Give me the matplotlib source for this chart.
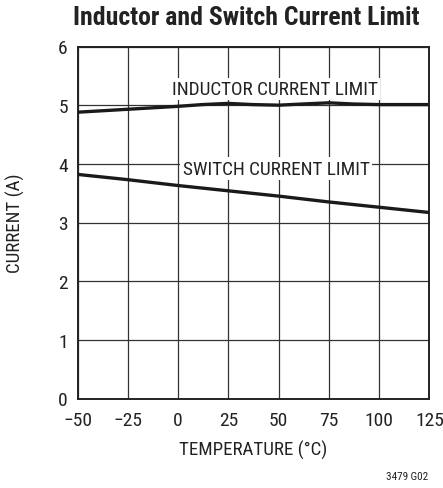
import matplotlib
matplotlib.use("Agg")
import matplotlib.pyplot as plt

plt.rcParams['font.family'] = ['Roboto Condensed', 'DejaVu Sans']

# Data
temp_ind = [-50, -25, 0, 12, 25, 37, 50, 62, 75, 87, 100, 125]
ind_limit = [4.88, 4.93, 4.98, 5.01, 5.03, 5.01, 5.00, 5.02, 5.04, 5.02, 5.01, 5.01]
temp_sw = [-50, -25, 0, 25, 50, 75, 100, 125]
sw_limit = [3.82, 3.73, 3.63, 3.54, 3.45, 3.35, 3.26, 3.17]
x_ticks = [-50, -25, 0, 25, 50, 75, 100, 125]
x_labels = ["\u221250", "\u221225", "0", "25", "50", "75", "100", "125"]
y_ticks = [0, 1, 2, 3, 4, 5, 6]

fig = plt.figure(figsize=(4.43, 4.89), dpi=100)
ax = fig.add_axes([77.5 / 443, 1 - 399.5 / 489, 352 / 443, 352 / 489])

ax.plot(temp_ind, ind_limit, color="#1a1a1a", lw=2.4, zorder=3)
ax.plot(temp_sw, sw_limit, color="#1a1a1a", lw=2.4, zorder=3)

ax.set_xlim(-50, 125)
ax.set_ylim(0, 6)
ax.set_xticks(x_ticks)
ax.set_xticklabels(x_labels)
ax.set_yticks(y_ticks)
ax.tick_params(length=0, labelsize=14, colors="#222222")
ax.tick_params(axis="x", pad=9)
ax.tick_params(axis="y", pad=7)
ax.grid(True, color="#333333", lw=0.9)
for s in ax.spines.values():
    s.set_linewidth(1.4)
    s.set_color("#222222")

box = dict(facecolor="white", edgecolor="none", pad=1.5)
ax.text(48, 5.28, "INDUCTOR CURRENT LIMIT", ha="center", va="center",
        fontsize=13.9, color="#222222", bbox=box, zorder=4)
ax.text(48.7, 3.92, "SWITCH CURRENT LIMIT", ha="center", va="center",
        fontsize=13.9, color="#222222", bbox=box, zorder=4)

ax.set_xlabel("TEMPERATURE (\u00b0C)", fontsize=13.6, labelpad=8, color="#222222")
ax.set_ylabel("CURRENT (A)", fontsize=13.6, labelpad=24, color="#222222")

fig.text(246 / 443, 1 - 18 / 489, "Inductor and Switch Current Limit",
         ha="center", va="center", fontsize=18.5, fontweight="bold", color="#222222")
fig.text(428 / 443, 1 - 477 / 489, "3479 G02", ha="right", va="center",
         fontsize=8, color="#222222")

fig.savefig("out.png", dpi=100)
